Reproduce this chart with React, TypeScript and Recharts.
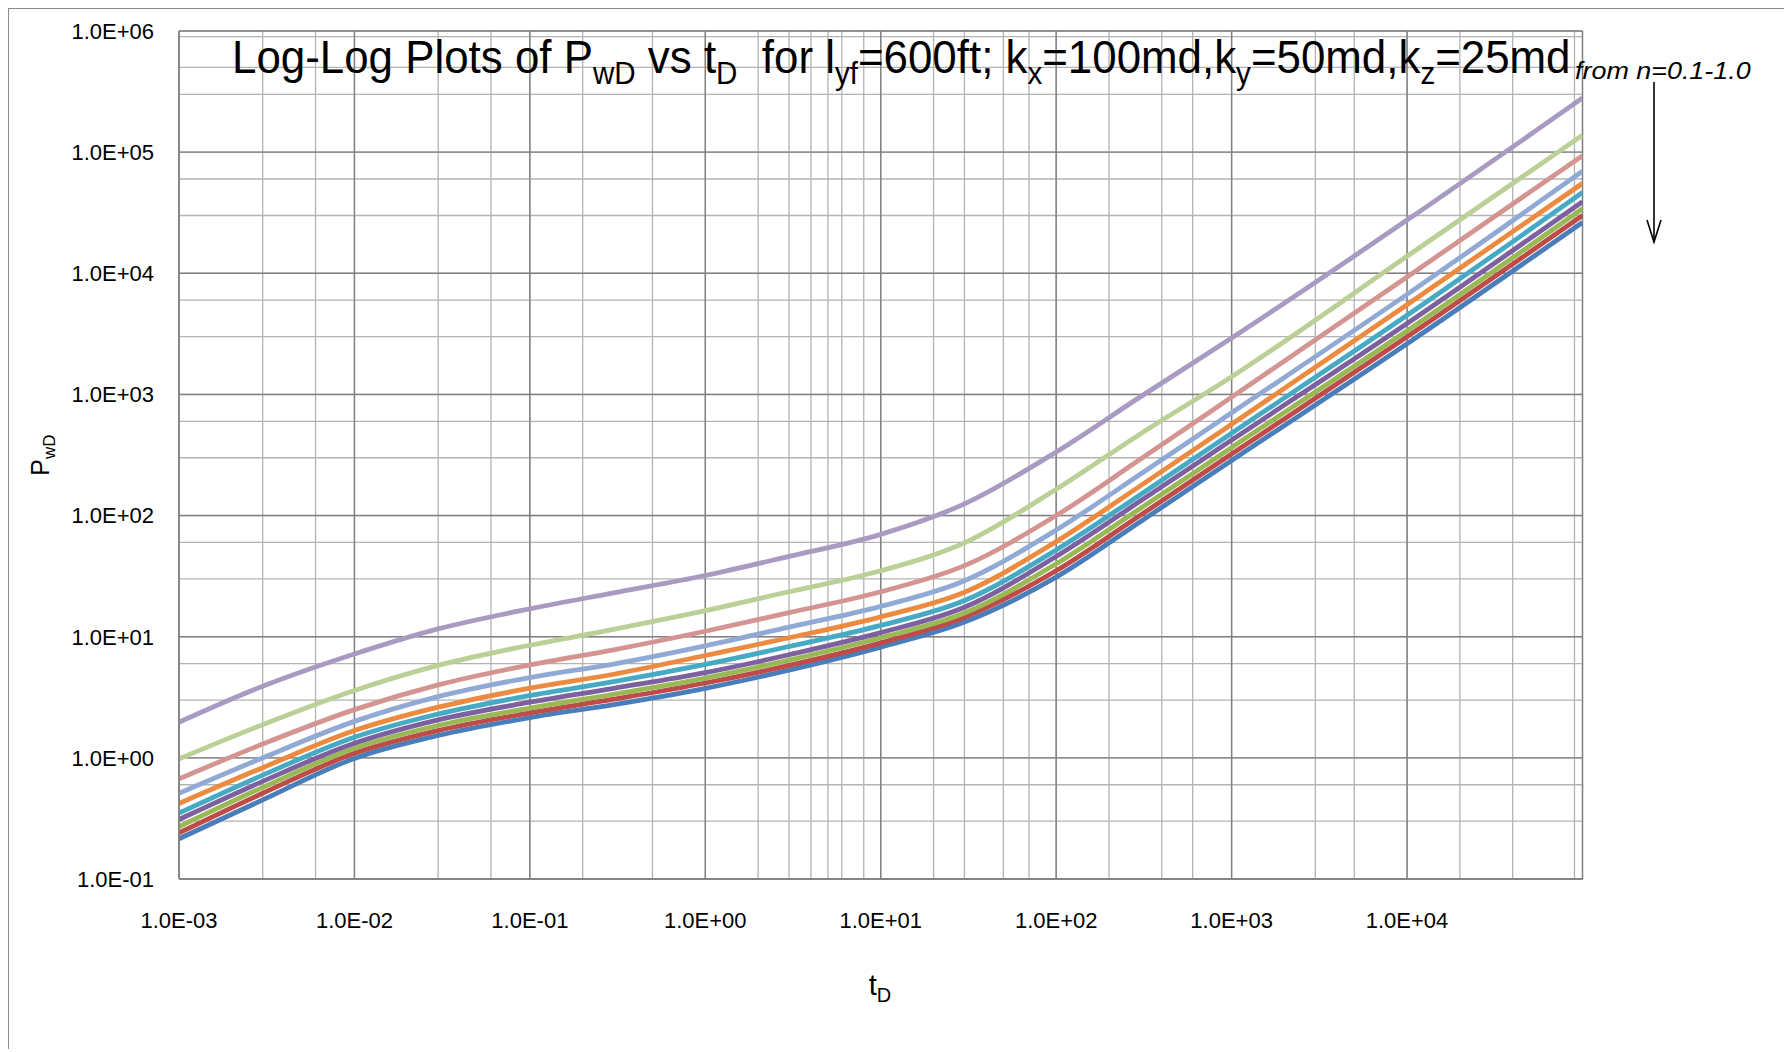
import React, { useLayoutEffect, useRef, useState } from 'react';
import { LineChart, Line, XAxis, YAxis, CartesianGrid } from 'recharts';

// dimensionless time
const tD = [0.001, 0.003, 0.01, 0.03, 0.1, 0.3, 1, 3, 10, 30, 100, 300, 1000, 10000, 100000];

// dimensionless wellbore pressure, one list per flow behaviour index n
const pwdN10 = [0.215, 0.45, 0.99, 1.53, 2.15, 2.75, 3.75, 5.3, 8.2, 13.2, 31, 88.5, 285, 2620, 26300];
const pwdN09 = [0.24, 0.51, 1.09, 1.68, 2.35, 3.05, 4.15, 5.8, 8.9, 14.5, 35, 100, 322, 2990, 30000];
const pwdN08 = [0.27, 0.57, 1.2, 1.85, 2.57, 3.35, 4.55, 6.4, 9.8, 15.7, 40, 114, 365, 3350, 34100];
const pwdN07 = [0.31, 0.64, 1.32, 2.06, 2.88, 3.75, 5.05, 7.1, 10.8, 17.5, 46, 131, 420, 3850, 39000];
const pwdN06 = [0.35, 0.72, 1.48, 2.3, 3.27, 4.25, 5.9, 8.3, 12.4, 19.9, 52, 148, 478, 4500, 46500];
const pwdN05 = [0.42, 0.83, 1.68, 2.62, 3.76, 4.9, 7.0, 9.8, 14.6, 23.3, 61, 175, 567, 5500, 55300];
const pwdN04 = [0.51, 1.0, 2.0, 3.2, 4.6, 5.95, 8.4, 12.0, 17.8, 29, 76, 218, 705, 6700, 69500];
const pwdN03 = [0.67, 1.3, 2.5, 4.0, 5.85, 7.8, 11.1, 15.8, 23.5, 38.6, 100, 290, 950, 9300, 93500];
const pwdN02 = [0.98, 1.88, 3.6, 5.8, 8.5, 11.5, 16.4, 23.5, 35, 59.5, 165, 470, 1400, 13800, 138000];
const pwdN01 = [1.97, 3.9, 7.2, 11.6, 17.0, 23, 32, 46, 70, 125, 335, 950, 2920, 27500, 280000];

const seriesList = [
  { key: 'n10', name: 'n=1.0', values: pwdN10, color: '#4a7ebb' },
  { key: 'n09', name: 'n=0.9', values: pwdN09, color: '#be4b48' },
  { key: 'n08', name: 'n=0.8', values: pwdN08, color: '#98b954' },
  { key: 'n07', name: 'n=0.7', values: pwdN07, color: '#7d60a0' },
  { key: 'n06', name: 'n=0.6', values: pwdN06, color: '#46aac5' },
  { key: 'n05', name: 'n=0.5', values: pwdN05, color: '#ec8a3f' },
  { key: 'n04', name: 'n=0.4', values: pwdN04, color: '#91a9d5' },
  { key: 'n03', name: 'n=0.3', values: pwdN03, color: '#d49592' },
  { key: 'n02', name: 'n=0.2', values: pwdN02, color: '#bad096' },
  { key: 'n01', name: 'n=0.1', values: pwdN01, color: '#a89ac1' },
];

// axis ticks
const majorX = [0.001, 0.01, 0.1, 1, 10, 100, 1000, 10000];
const majorY = [0.1, 1, 10, 100, 1000, 10000, 100000, 1000000];

const decadeSteps = (from: number, to: number) => {
  const out: number[] = [];
  for (let k = from; k <= to; k++) {
    for (let m = 1; m <= 9; m++) out.push(m * Math.pow(10, k));
  }
  return out;
};
const minorX = decadeSteps(-3, 4);
const minorY = decadeSteps(-1, 5);

const data = tD.map((t, i) => {
  const row: Record<string, number> = { t };
  seriesList.forEach((s) => {
    row[s.key] = s.values[i];
  });
  return row;
});

const sci = (v: number) => {
  const e = Math.round(Math.log10(v));
  return `1.0E${e < 0 ? '-' : '+'}${String(Math.abs(e)).padStart(2, '0')}`;
};

const FONT = '"Liberation Sans", Arial, sans-serif';
const tickStyle = { fontSize: 22, fill: '#000', fontFamily: FONT };

// stretches an svg text horizontally so that it spans a given width
function FitText({ x, y, width, children, ...rest }: any) {
  const ref = useRef<SVGTextElement>(null);
  const [sx, setSx] = useState(1);
  useLayoutEffect(() => {
    if (ref.current) {
      const w = ref.current.getBBox().width;
      if (w > 0) setSx(width / w);
    }
  }, [width]);
  return (
    <text ref={ref} transform={`translate(${x},${y}) scale(${sx},1)`} {...rest}>
      {children}
    </text>
  );
}

export default function App() {
  return (
    <div
      style={{
        width: 1780,
        height: 1040,
        borderLeft: '1px solid #8a8a8a',
        borderTop: '1px solid #8a8a8a',
        background: '#fff',
      }}
    >
      <div style={{ position: 'relative', width: 1779, height: 1039 }}>
        <LineChart
          width={1779}
          height={1039}
          data={data}
          margin={{ top: 22, right: 205.5, left: 0, bottom: 0 }}
        >
          <XAxis xAxisId="minor" dataKey="t" type="number" scale="log" domain={[0.001, 100000]}
            ticks={minorX} allowDataOverflow hide />
          <YAxis yAxisId="minor" type="number" scale="log" domain={[0.1, 1000000]}
            ticks={minorY} allowDataOverflow hide />
          <CartesianGrid xAxisId="minor" yAxisId="minor" stroke="#b3b3b3" strokeWidth={1.3} />
          <CartesianGrid xAxisId="major" yAxisId="major" stroke="#808080" strokeWidth={1.4} />
          <XAxis
            xAxisId="major"
            dataKey="t"
            type="number"
            scale="log"
            domain={[0.001, 100000]}
            ticks={majorX}
            interval={0}
            allowDataOverflow
            tickFormatter={sci}
            tick={tickStyle}
            tickLine={false}
            tickSize={0}
            tickMargin={33}
            height={169}
            axisLine={{ stroke: '#808080', strokeWidth: 1.6 }}
          />
          <YAxis
            yAxisId="major"
            type="number"
            scale="log"
            domain={[0.1, 1000000]}
            ticks={majorY}
            interval={0}
            allowDataOverflow
            tickFormatter={sci}
            tick={tickStyle}
            tickLine={false}
            tickSize={0}
            tickMargin={25}
            width={170}
            axisLine={{ stroke: '#808080', strokeWidth: 1.4 }}
          />
          {seriesList.map((s) => (
            <Line
              key={s.key}
              xAxisId="major"
              yAxisId="major"
              type="monotone"
              dataKey={s.key}
              name={s.name}
              stroke={s.color}
              strokeWidth={4.8}
              dot={false}
              activeDot={false}
              isAnimationActive={false}
            />
          ))}
        </LineChart>
        <svg
          width={1779}
          height={1039}
          style={{ position: 'absolute', left: 0, top: 0, pointerEvents: 'none' }}
          fontFamily={FONT}
        >
          <FitText x={223} y={64} width={1339} fontSize={46} fill="#000" style={{ whiteSpace: 'pre' }}>
            Log-Log Plots of P
            <tspan fontSize={31} dy={11}>wD</tspan>
            <tspan dy={-11}> vs t</tspan>
            <tspan fontSize={31} dy={11}>D</tspan>
            <tspan dy={-11}>{'  for l'}</tspan>
            <tspan fontSize={31} dy={11}>yf</tspan>
            <tspan dy={-11}>=600ft; k</tspan>
            <tspan fontSize={31} dy={11}>x</tspan>
            <tspan dy={-11}>=100md,k</tspan>
            <tspan fontSize={31} dy={11}>y</tspan>
            <tspan dy={-11}>=50md,k</tspan>
            <tspan fontSize={31} dy={11}>z</tspan>
            <tspan dy={-11}>=25md</tspan>
          </FitText>
          <FitText x={1566} y={70} width={176} fontSize={23} fontStyle="italic" fill="#000">
            from n=0.1-1.0
          </FitText>
          <line x1={1645} y1={73} x2={1645} y2={233} stroke="#000" strokeWidth={1.6} />
          <polyline points="1638,211 1645,233 1652,211" fill="none" stroke="#000" strokeWidth={1.6} />
          <text x={871} y={986} fontSize={29} fill="#000" textAnchor="middle">
            t<tspan fontSize={20} dy={7}>D</tspan>
          </text>
          <text transform="translate(40,446) rotate(-90)" fontSize={25} fill="#000" textAnchor="middle">
            P<tspan fontSize={17} dy={6}>wD</tspan>
          </text>
        </svg>
      </div>
    </div>
  );
}
